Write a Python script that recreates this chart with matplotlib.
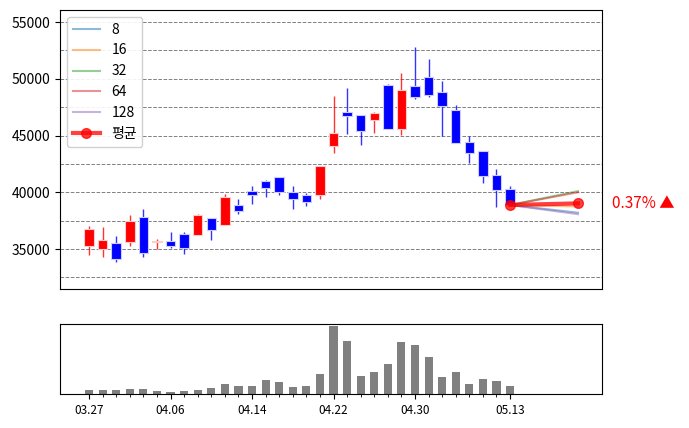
import matplotlib
matplotlib.use("Agg")
import matplotlib.pyplot as plt
import numpy as np

plt.rcParams['font.family'] = ['Noto Sans CJK KR', 'DejaVu Sans']

opens  = [35300,35030,35530,35650,37790,35650,35700,36320,36270,37730,37140,38880,40110,40990,41340,40020,39760,39740,
          44100,47070,46810,46390,49450,45600,49360,50150,48830,47250,44430,43640,41520,40290]
closes = [36760,35795,34150,37500,34670,35720,35290,35120,38000,36700,39580,38380,39740,40350,40000,39430,39170,42340,
          45220,46720,45420,46980,45600,49010,48420,48570,47630,44370,43490,41460,40230,38880]
highs  = [37030,36910,36150,38000,38520,35910,36500,36470,38090,37730,39850,39380,40550,41080,41340,40550,39960,42340,
          48480,49190,46810,47070,49540,50510,52800,51740,49800,47660,44960,43640,42020,40550]
lows   = [34470,34320,33880,35290,34320,34980,35060,34590,36270,35820,37140,38060,38990,39610,39760,38550,38820,39430,
          43490,45160,44190,45250,45600,45070,48190,48420,44980,44370,42550,40840,38730,38880]
volumes = [12,12,12,15,15,10,7,10,12,18,30,24,24,42,36,21,24,60,198,156,54,63,87,153,144,108,51,63,30,45,39,24]
tick_idx = [0,6,12,18,24,31]
tick_labels = ['03.27','04.06','04.14','04.22','04.30','05.13']
ma_names = ['8','16','32','64','128']
ma_targets = [38200,38750,40100,40000,38070]
ma_colors = ['#1f77b4','#ff7f0e','#2ca02c','#d62728','#9467bd']
horizon = 5
pct_text = '0.37% ▲'

fig = plt.figure(figsize=(6.89,4.28), dpi=100)
ax = fig.add_axes([60/689, 1-289/428, 542/689, 279/428])
axv = fig.add_axes([60/689, 1-394/428, 542/689, 70/428])
XL = (-2.14, 37.77)

x = np.arange(len(opens))
for i in x:
    o,c,h,l = opens[i],closes[i],highs[i],lows[i]
    col = 'red' if c >= o else 'blue'
    ax.vlines(i, l, h, color=col, lw=1, alpha=0.8, zorder=2)
    bottom = min(o,c); height = max(abs(c-o), 60)
    ax.bar(i, height, bottom=bottom, width=0.7, color=col, edgecolor='#ccccff' if col=='blue' else '#ffcccc', lw=0.8, zorder=3)

last = len(opens)-1
xe = last + horizon
for n,t,cl in zip(ma_names, ma_targets, ma_colors):
    ax.plot([last, xe], [closes[last], t], color=cl, alpha=0.5, lw=1.5, label=n, zorder=4)
avg = np.mean(ma_targets)
ax.plot([last, xe], [closes[last], avg], color='red', alpha=0.75, lw=3, marker='o', ms=7, label='평균', zorder=5)
ax.text(xe+2.5, avg, pct_text, color='red', fontsize=11, va='center', clip_on=False)

ax.set_xlim(*XL)
ax.set_ylim(31480, 56060)
ax.set_yticks(np.arange(35000, 55001, 5000))
ax.set_yticks(np.arange(32500, 55001, 2500), minor=True)
ax.grid(True, which='both', axis='y', linestyle='--', color='gray', lw=0.7)
ax.tick_params(axis='y', which='minor', length=0)
ax.set_xticks([])
ax.legend(loc='upper left', fontsize=10, framealpha=0.9)

axv.bar(x, volumes, width=0.6, color='gray')
axv.set_xlim(*XL)
axv.set_ylim(0, 205)
axv.set_yticks([])
axv.set_xticks(x, minor=True)
axv.set_xticks(tick_idx)
axv.set_xticklabels(tick_labels, fontsize=8.5)

fig.savefig('out.png', dpi=100)
